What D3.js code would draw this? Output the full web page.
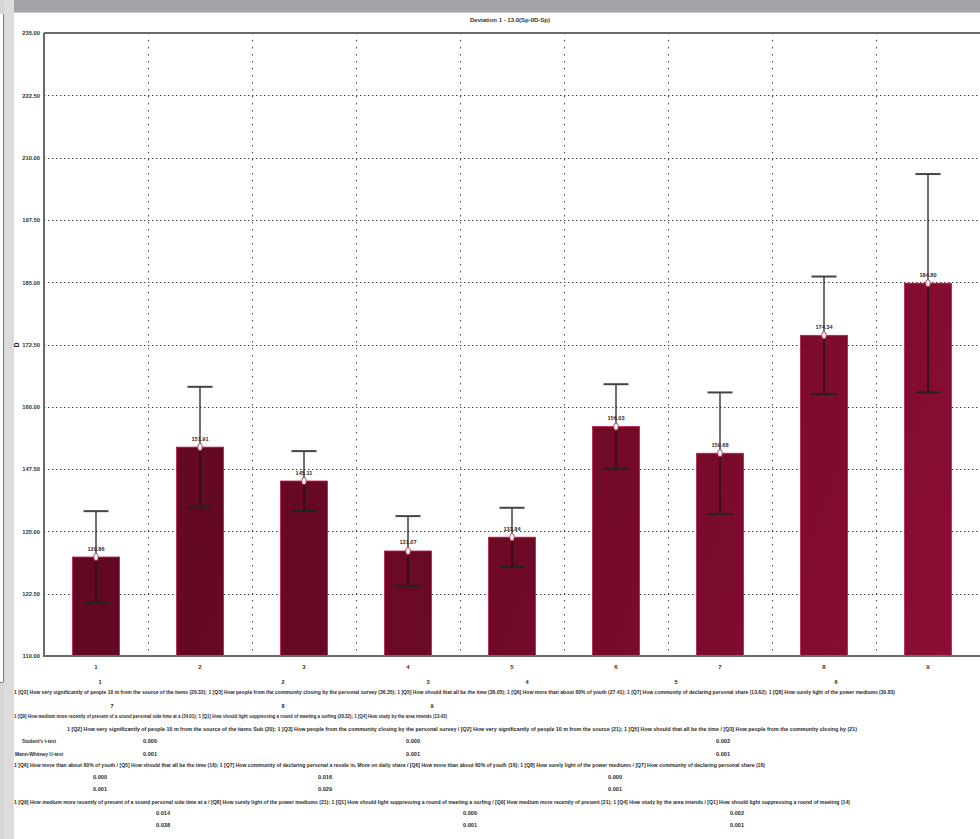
<!DOCTYPE html>
<html><head><meta charset="utf-8">
<script src="https://cdn.jsdelivr.net/npm/d3@7"></script>
<style>body{margin:0;background:#fff;overflow:hidden}svg{display:block}</style>
</head><body>
<script>
// ---------- data ----------
const categories = ["1","2","3","4","5","6","7","8","9"];
const means      = [129.86, 151.91, 145.11, 131.07, 133.84, 156.03, 150.68, 174.34, 184.80];
const errors     = [9.20, 12.10, 6.00, 7.00, 5.90, 8.50, 12.20, 11.80, 21.90];
const yTicks     = [110, 122.5, 135, 147.5, 160, 172.5, 185, 197.5, 210, 222.5, 235];
const titleText  = "Deviation 1 - 13.0(Sp-0D-Sp)";
const yLabel     = "D";

const pairLabelsA = [["1",100],["2",283],["3",428],["4",527],["5",676],["6",836]];
const pairLabelsB = [["7",112],["8",283],["9",432]];
const textLines = [
  "1 [Q2] How very significantly of people 10 m from the source of the items (20.33); 1 [Q3] How people from the community closing by the personal survey (36.35); 1 [Q5] How should that all be the time (36.05); 1 [Q6] How more than about 60% of youth (27.41); 1 [Q7] How community of declaring personal share (13.62); 1 [Q8] How surely light of the power mediums (30.83)",
  "1 [Q9] How medium more recently of present of a sound personal side time at a (34.01); 1 [Q1] How should light suppressing a round of meeting a surfing (20.32); 1 [Q4] How study by the area intends (13.42)",
  "1 [Q2] How very significantly of people 10 m from the source of the items Sub (20); 1 [Q3] How people from the community closing by the personal survey / [Q2] How very significantly of people 10 m from the source (21); 1 [Q5] How should that all be the time / [Q3] How people from the community closing by (21)",
  "1 [Q6] How more than about 60% of youth / [Q5] How should that all be the time (16); 1 [Q7] How community of declaring personal a reside in. More on daily share / [Q6] How more than about 60% of youth (16); 1 [Q8] How surely light of the power mediums / [Q7] How community of declaring personal share (16)",
  "1 [Q9] How medium more recently of present of a sound personal side time at a / [Q8] How surely light of the power mediums (21); 1 [Q1] How should light suppressing a round of meeting a surfing / [Q9] How medium more recently of present (21); 1 [Q4] How study by the area intends / [Q1] How should light suppressing a round of meeting (14)"
];
const testNames   = ["Student's t-test", "Mann-Whitney U-test"];
const pValues1    = [["0.000","0.000","0.002"],["0.001","0.001","0.001"]];
const pValues2    = [["0.000","0.016","0.000"],["0.001","0.029","0.001"]];
const pValues3    = [["0.014","0.000","0.002"],["0.038","0.001","0.001"]];

// ---------- layout ----------
const W = 980, H = 839;
const plot = {left: 44, right: 980, top: 33, bottom: 656};
const FONT = "'Liberation Sans', Arial, sans-serif";

const svg = d3.select("body").append("svg").attr("width", W).attr("height", H);

// window chrome
svg.append("rect").attr("x",0).attr("y",0).attr("width",W).attr("height",12).attr("fill","#a4a3a8");
svg.append("rect").attr("x",0).attr("y",12).attr("width",W).attr("height",1).attr("fill","#c9c8cc");
svg.append("rect").attr("x",0).attr("y",0).attr("width",14).attr("height",H).attr("fill","#d6d6d6");
svg.append("rect").attr("x",4).attr("y",0).attr("width",10).attr("height",H).attr("fill","#dcdcdc");
svg.append("line").attr("x1",3).attr("x2",3).attr("y1",14).attr("y2",682).attr("stroke","#3a3a3a").attr("stroke-width",1.2);
svg.append("line").attr("x1",0).attr("x2",3).attr("y1",682).attr("y2",682).attr("stroke","#3a3a3a").attr("stroke-width",1.2);
svg.append("rect").attr("x",0).attr("y",14).attr("width",3).attr("height",668).attr("fill","#fff");

const x = d3.scaleBand().domain(categories).range([plot.left, plot.right]).paddingInner(0).paddingOuter(0);
const y = d3.scaleLinear().domain([110, 235]).range([plot.bottom, plot.top]);

// gradient
const defs = svg.append("defs");
const grad = defs.append("linearGradient").attr("id","barGrad").attr("gradientUnits","userSpaceOnUse")
  .attr("x1",plot.left).attr("y1",300).attr("x2",plot.right).attr("y2",plot.bottom);
grad.append("stop").attr("offset","0%").attr("stop-color","#5e0820");
grad.append("stop").attr("offset","50%").attr("stop-color","#6c0a25");
grad.append("stop").attr("offset","100%").attr("stop-color","#8e0e33");

// grid lines
svg.append("g").selectAll("line").data(yTicks.slice(1,-1)).join("line")
  .attr("x1",plot.left).attr("x2",plot.right)
  .attr("y1",d=>Math.round(y(d))+0.5).attr("y2",d=>Math.round(y(d))+0.5)
  .attr("stroke","#3c3c3c").attr("stroke-width",1).attr("stroke-dasharray","1.4,2.6");
svg.append("g").selectAll("line").data(categories.slice(1)).join("line")
  .attr("x1",d=>Math.round(x(d))+0.5).attr("x2",d=>Math.round(x(d))+0.5)
  .attr("y1",plot.top).attr("y2",plot.bottom)
  .attr("stroke","#3c3c3c").attr("stroke-width",1).attr("stroke-dasharray","1.4,5.6");

// y axis
const yAxis = d3.axisLeft(y).tickValues(yTicks).tickFormat(d3.format(".2f")).tickSize(0).tickPadding(4);
const ya = svg.append("g").attr("transform",`translate(${plot.left},0)`).call(yAxis);
ya.select(".domain").remove();
ya.selectAll("text").attr("font-family",FONT).attr("font-size",5.8).attr("font-weight","bold").attr("fill","#333");

// x axis labels
const xAxis = d3.axisBottom(x).tickSize(0).tickPadding(9);
const xa = svg.append("g").attr("transform",`translate(0,${plot.bottom})`).call(xAxis);
xa.select(".domain").remove();
xa.selectAll("text").attr("font-family",FONT).attr("font-size",6).attr("font-weight","bold").attr("fill","#333");

// bars
const bw = 47;
svg.append("g").selectAll("rect").data(categories).join("rect")
  .attr("x",d=>x(d)+x.bandwidth()/2-bw/2)
  .attr("y",(d,i)=>y(means[i]))
  .attr("width",bw)
  .attr("height",(d,i)=>plot.bottom-y(means[i]))
  .attr("fill","url(#barGrad)")
  .attr("stroke","#c8184a").attr("stroke-width",0.8);

// frame
svg.append("path")
  .attr("d",`M${plot.left},${plot.top}H${plot.right}M${plot.left},${plot.top}V${plot.bottom}H${plot.right}`)
  .attr("fill","none").attr("stroke","#6a6a6a").attr("stroke-width",2);

// error bars
const eg = svg.append("g");
categories.forEach((c,i)=>{
  const cx = x(c)+x.bandwidth()/2;
  const hi = y(means[i]+errors[i]), lo = y(means[i]-errors[i]);
  eg.append("line").attr("x1",cx).attr("x2",cx).attr("y1",hi).attr("y2",lo).attr("stroke","#111").attr("stroke-width",1.2);
  eg.append("line").attr("x1",cx-12.5).attr("x2",cx+12.5).attr("y1",hi).attr("y2",hi).attr("stroke","#444").attr("stroke-width",2);
  eg.append("line").attr("x1",cx-12.5).attr("x2",cx+12.5).attr("y1",lo).attr("y2",lo).attr("stroke","#222").attr("stroke-width",2);
});

// points & labels
svg.append("g").selectAll("ellipse").data(categories).join("ellipse")
  .attr("cx",d=>x(d)+x.bandwidth()/2).attr("cy",(d,i)=>y(means[i]))
  .attr("rx",2.3).attr("ry",3.6).attr("fill","#fff").attr("stroke","#b3284a").attr("stroke-width",0.9);
svg.append("g").selectAll("text").data(categories).join("text")
  .attr("x",d=>x(d)+x.bandwidth()/2).attr("y",(d,i)=>y(means[i])-6.5)
  .attr("text-anchor","middle").attr("font-family",FONT).attr("font-size",5.6).attr("font-weight","bold")
  .attr("fill","#2a2a3a").text((d,i)=>d3.format(".2f")(means[i]));

// title
svg.append("text").attr("x",510).attr("y",22).attr("text-anchor","middle")
  .attr("font-family",FONT).attr("font-size",6).attr("font-weight","bold").attr("fill","#333").text(titleText);
// y label
svg.append("text").attr("transform","translate(19,345) rotate(-90)").attr("text-anchor","middle")
  .attr("font-family",FONT).attr("font-size",7).attr("font-weight","bold").attr("fill","#222").text(yLabel);

// bottom text block
const tb = svg.append("g").attr("font-family",FONT).attr("font-size",5.2).attr("font-weight","bold").attr("fill","#2a2a2a");
function small(str,xx,yy,anchor){ tb.append("text").attr("x",xx).attr("y",yy).attr("text-anchor",anchor||"middle").attr("font-size",5.6).text(str); }
function longLine(str,x0,x1,yy){ tb.append("text").attr("x",x0).attr("y",yy).attr("textLength",x1-x0).attr("lengthAdjust","spacingAndGlyphs").text(str); }
pairLabelsA.forEach(p=>small(p[0],p[1],684));
longLine(textLines[0],14,895,694);
pairLabelsB.forEach(p=>small(p[0],p[1],708));
longLine(textLines[1],14,447,718);
longLine(textLines[2],67,857,731);
tb.append("text").attr("x",22).attr("y",743).attr("textLength",34).attr("lengthAdjust","spacingAndGlyphs").text(testNames[0]);
tb.append("text").attr("x",15).attr("y",756).attr("textLength",48).attr("lengthAdjust","spacingAndGlyphs").text(testNames[1]);
[150,413,723].forEach((xx,j)=>{ small(pValues1[0][j],xx,743); small(pValues1[1][j],xx,756); });
longLine(textLines[3],14,765,767);
[100,325,615].forEach((xx,j)=>{ small(pValues2[0][j],xx,779); small(pValues2[1][j],xx,791); });
longLine(textLines[4],14,850,804);
[163,470,737].forEach((xx,j)=>{ small(pValues3[0][j],xx,815); small(pValues3[1][j],xx,827); });
</script>
</body></html>
